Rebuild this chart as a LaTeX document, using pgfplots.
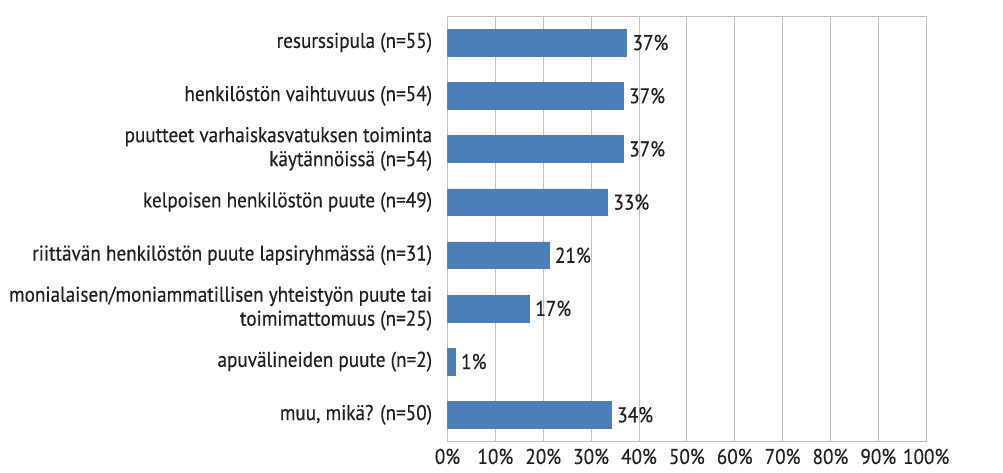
\documentclass[border=0pt]{standalone}
\usepackage{pgfplots}
\pgfplotsset{compat=1.18}
\usepackage{fontspec}
\setmainfont{PT Sans}[FakeStretch=0.9, FakeBold=0.3]
\definecolor{barblue}{HTML}{4A7EBB}
\definecolor{gridgray}{HTML}{BFBFBF}
\definecolor{txt}{HTML}{231F20}
\newcommand{\lblfont}{\fontsize{16}{18}\selectfont}
\begin{document}
\begin{tikzpicture}
\useasboundingbox (-335.6pt,-23pt) rectangle (416.6pt,331pt);
\begin{axis}[
  scale only axis,
  width=359pt, height=319pt,
  xbar, bar width=20pt,
  xmin=0, xmax=100,
  ymin=-0.5, ymax=7.5,
  y dir=reverse,
  xtick={0,10,...,100},
  xticklabels={0\%,10\%,20\%,30\%,40\%,50\%,60\%,70\%,80\%,90\%,100\%},
  ytick={0,...,7},
  yticklabels={
    resurssipula (n=55),
    henkilöstön vaihtuvuus (n=54),
    {puutteet varhaiskasvatuksen toiminta\\käytännöissä (n=54)},
    kelpoisen henkilöstön puute (n=49),
    riittävän henkilöstön puute lapsiryhmässä (n=31),
    {monialaisen/moniammatillisen yhteistyön puute tai\\toimimattomuus (n=25)},
    apuvälineiden puute (n=2),
    {muu, mikä? (n=50)}
  },
  yticklabel style={align=right, font=\lblfont, text=txt, xshift=-8pt},
  xticklabel style={font=\lblfont, text=txt, yshift=-2pt},
  major tick length=0pt,
  xmajorgrids, grid style={gridgray, line width=0.7pt},
  axis line style={gridgray, line width=0.7pt},
  point meta=explicit symbolic,
  nodes near coords,
  nodes near coords style={font=\lblfont, text=txt, anchor=west, xshift=1pt},
]
\addplot[fill=barblue, draw=barblue!80!gray, line width=0.4pt] coordinates {
  (37.4,0) [37\%]
  (36.7,1) [37\%]
  (36.7,2) [37\%]
  (33.4,3) [33\%]
  (21.2,4) [21\%]
  (17.1,5) [17\%]
  (1.6,6) [1\%]
  (34.2,7) [34\%]
};
\end{axis}
\end{tikzpicture}
\end{document}
